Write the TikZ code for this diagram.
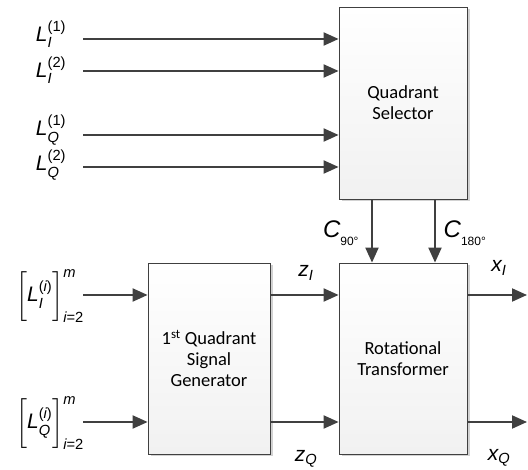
\documentclass[tikz,border=0pt]{standalone}
\usepackage{amsmath}
\usepackage{fontspec}
\setmainfont{Carlito}
\newfontfamily\arialf{Liberation Sans}
\usetikzlibrary{arrows.meta,shadows}
\definecolor{ln}{HTML}{404040}
\newcommand\vi[1]{\text{\arialf\itshape #1}}
\newcommand\vr[1]{\text{\arialf #1}}
\newcommand\vsub[1]{\raisebox{-4pt}{\arialf\fontsize{12}{13}\selectfont #1}}
\begin{document}
\begin{tikzpicture}[x=1pt,y=-1pt,
  block/.style={draw=ln, line width=0.8pt, top color=white, bottom color=gray!11,
    drop shadow={shadow xshift=2.5pt,shadow yshift=-2.5pt,fill=gray!35,opacity=1},
    align=center, font=\fontsize{18.5}{21}\selectfont, inner sep=0pt},
  sig/.style={draw=ln, line width=2pt, -{Triangle[length=15pt,width=13pt]}},
  var/.style={font=\fontsize{21}{25}\selectfont, inner sep=0pt},
  cvar/.style={font=\fontsize{24}{28}\selectfont, inner sep=0pt}
]
\useasboundingbox (0,0) rectangle (528,470);

% blocks
\node[block, minimum width=128pt, minimum height=192pt] (qs) at (403,103) {Quadrant\\Selector};
\node[block, minimum width=122pt, minimum height=191pt] (qg) at (209,358.5) {1\textsuperscript{st} Quadrant\\Signal\\Generator};
\node[block, minimum width=128pt, minimum height=191pt] (rt) at (403,358.5) {Rotational\\Transformer};

% top inputs
\node[var] (l1) at (51,34) {$\vi{L}_{\vi{I}}^{\vr{(1)}}$};
\node[var] (l2) at (51,70) {$\vi{L}_{\vi{I}}^{\vr{(2)}}$};
\node[var] (l3) at (51,130) {$\vi{L}_{\vi{Q}}^{\vr{(1)}}$};
\node[var] (l4) at (51,165) {$\vi{L}_{\vi{Q}}^{\vr{(2)}}$};
\coordinate (i1) at (83,39);
\coordinate (i2) at (83,71);
\coordinate (i3) at (83,135);
\coordinate (i4) at (83,167);
\draw[sig] (i1) -- (i1 -| qs.west);
\draw[sig] (i2) -- (i2 -| qs.west);
\draw[sig] (i3) -- (i3 -| qs.west);
\draw[sig] (i4) -- (i4 -| qs.west);

% bottom inputs
\node[var] (l5) at (50,296) {$\left[\rule[-15pt]{0pt}{44pt}\vi{L}_{\vi{I}}^{\vr{(}\vi{i}\vr{)}}\right]_{\vi{i}\vr{=2}}^{\vi{m}}$};
\node[var] (l6) at (50,423) {$\left[\rule[-15pt]{0pt}{44pt}\vi{L}_{\vi{Q}}^{\vr{(}\vi{i}\vr{)}}\right]_{\vi{i}\vr{=2}}^{\vi{m}}$};
\coordinate (j1) at (83,295);
\coordinate (j2) at (83,422);
\draw[sig] (j1) -- (j1 -| qg.west);
\draw[sig] (j2) -- (j2 -| qg.west);

% z signals
\draw[sig] (qg.east |- j1) -- (rt.west |- j1);
\draw[sig] (qg.east |- j2) -- (rt.west |- j2);
\node[var] (zi) at (306,273) {$\vi{z}_{\vi{I}}$};
\node[var] (zq) at (306,459) {$\vi{z}_{\vi{Q}}$};

% x outputs
\coordinate (o1) at (527,295);
\coordinate (o2) at (527,422);
\draw[sig] (rt.east |- o1) -- (o1);
\draw[sig] (rt.east |- o2) -- (o2);
\node[var] (xi) at (499,268) {$\vi{x}_{\vi{I}}$};
\node[var] (xq) at (499,458) {$\vi{x}_{\vi{Q}}$};

% C signals
\coordinate (c1) at (372,230);
\coordinate (c2) at (435,230);
\draw[sig] (c1 |- qs.south) -- (c1 |- rt.north);
\draw[sig] (c2 |- qs.south) -- (c2 |- rt.north);
\node[cvar] (ca) at (341,233) {$\vi{C}_{\vsub{90°}}$};
\node[cvar] (cb) at (465,233) {$\vi{C}_{\vsub{180°}}$};
\end{tikzpicture}
\end{document}
